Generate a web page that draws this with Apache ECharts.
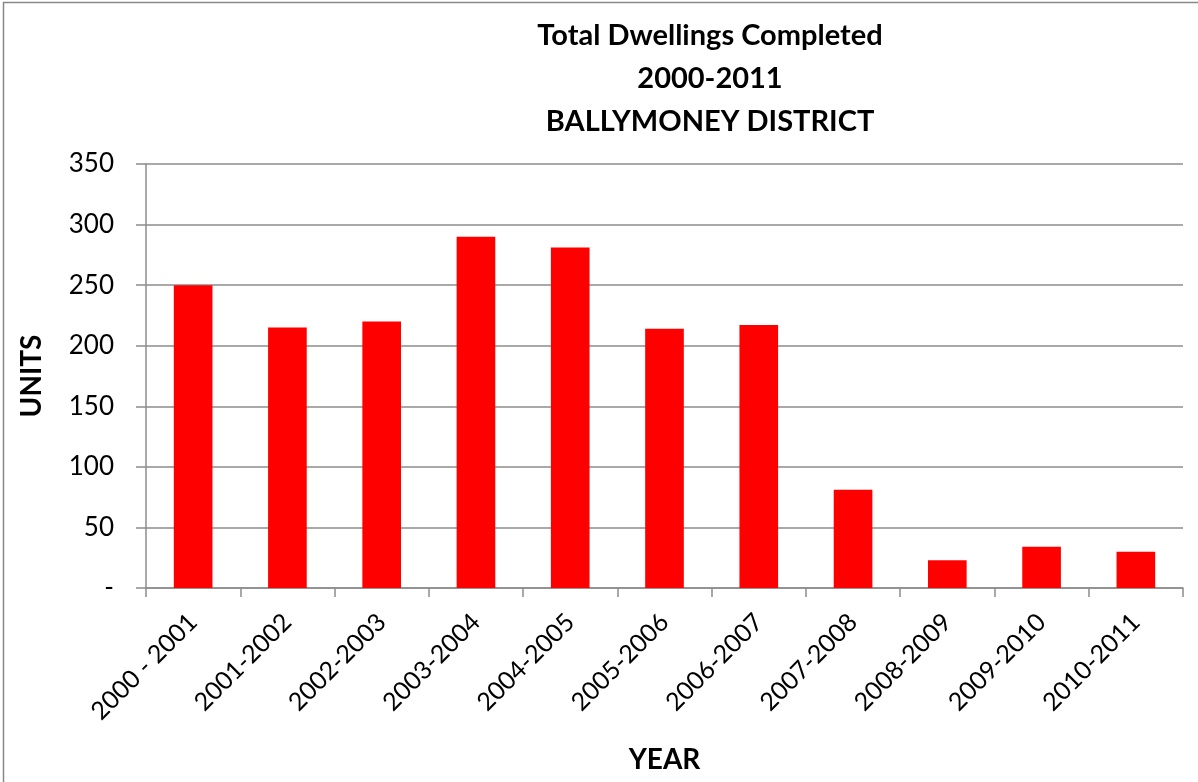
<!DOCTYPE html>
<html><head><meta charset="utf-8">
<script src="https://cdn.jsdelivr.net/npm/echarts@6/dist/echarts.min.js"></script>
<style>html,body{margin:0;padding:0;background:#fff}#c{width:1198px;height:782px}</style>
</head><body><div id="c"></div>
<script>
const categories = ['2000 - 2001','2001-2002','2002-2003','2003-2004','2004-2005','2005-2006','2006-2007','2007-2008','2008-2009','2009-2010','2010-2011'];
const units = [250, 215, 220, 290, 281, 214, 217, 81, 23, 34, 30];
const titleLines = ['Total Dwellings Completed', '2000-2011', 'BALLYMONEY DISTRICT'];
const yAxisName = 'UNITS';
const xAxisName = 'YEAR';

const font = 'Lato, "Open Sans", sans-serif';
const chart = echarts.init(document.getElementById('c'));
chart.setOption({
  animation: false,
  backgroundColor: '#fff',
  title: {
    text: titleLines.join('\n'),
    left: 705, top: 9, textAlign: 'center',
    textStyle: { fontFamily: font, fontWeight: 'bold', fontSize: 29, lineHeight: 43, color: '#000' }
  },
  graphic: [{ type: 'rect', shape: { x: 3.5, y: 2.5, width: 1200, height: 790 }, style: { fill: 'none', stroke: '#888', lineWidth: 1.5 }, silent: true }],
  grid: { left: 146, right: 15, top: 164, bottom: 194 },
  xAxis: {
    type: 'category', data: categories,
    name: xAxisName, nameLocation: 'middle', nameGap: 158,
    nameTextStyle: { fontFamily: font, fontWeight: 'bold', fontSize: 28, color: '#000' },
    axisLine: { lineStyle: { color: '#8c8c8c', width: 1.5 } },
    axisTick: { show: true, length: 9, lineStyle: { color: '#8c8c8c', width: 1.5 } },
    axisLabel: { rotate: 45, fontFamily: font, fontSize: 25, color: '#000', margin: 30 }
  },
  yAxis: {
    type: 'value', min: 0, max: 350, interval: 50,
    name: yAxisName, nameLocation: 'middle', nameGap: 100,
    nameTextStyle: { fontFamily: font, fontWeight: 'bold', fontSize: 28, color: '#000' },
    axisLine: { show: true, lineStyle: { color: '#8c8c8c', width: 1.5 } },
    axisTick: { show: true, length: 10, lineStyle: { color: '#8c8c8c', width: 1.5 } },
    splitLine: { lineStyle: { color: '#8c8c8c', width: 1.5 } },
    axisLabel: { fontFamily: font, fontSize: 26, color: '#000', margin: 32,
      formatter: v => v === 0 ? '-' : String(v) }
  },
  series: [{
    type: 'bar', data: units, barWidth: '41%',
    itemStyle: { color: '#ff0000' }
  }]
});
</script></body></html>
